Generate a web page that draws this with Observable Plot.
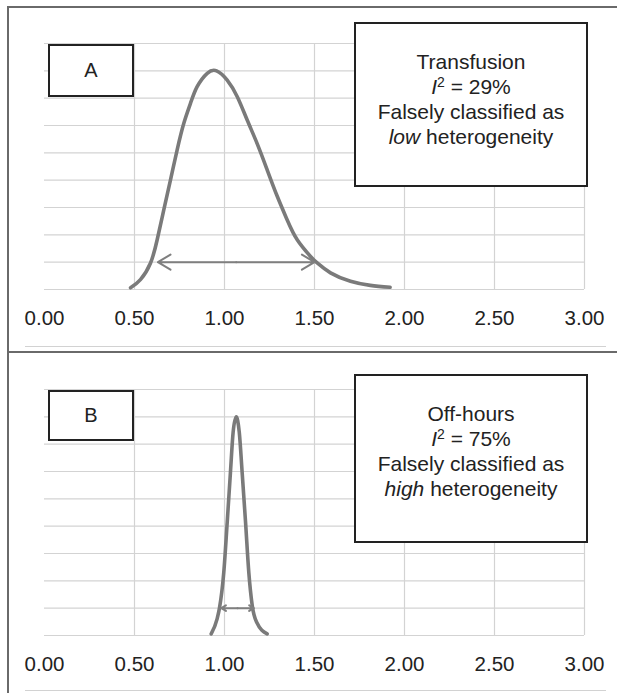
<!DOCTYPE html>
<html>
<head>
<meta charset="utf-8">
<script src="https://cdn.jsdelivr.net/npm/d3@7"></script>
<script src="https://cdn.jsdelivr.net/npm/@observablehq/plot@0.6"></script>
<style>
  html, body { margin: 0; padding: 0; background: #fff; }
  #wrap { position: relative; width: 617px; height: 693px; overflow: hidden; background: #fff;
          font-family: "Liberation Sans", Arial, sans-serif; color: #222; }
  .panel { position: absolute; left: 0; }
  .hline { position: absolute; height: 0; }
  .vline { position: absolute; width: 0; }
  .box { position: absolute; background: #fff; border: 2px solid #222; box-sizing: border-box;
         text-align: center; font-size: 21px; line-height: 25px; color: #222; }
  .lbl { display: flex; align-items: center; justify-content: center; font-size: 20px; }
</style>
</head>
<body>
<div id="wrap"></div>
<script>
// ---- data ----
const xTicks = [0, 0.5, 1, 1.5, 2, 2.5, 3];
const xGrid = [0.5, 1, 1.5, 2, 2.5, 3];
const yGrid = [0, 1, 2, 3, 4, 5, 6, 7, 8, 9];

// Panel A: Transfusion
const curveAx = [0.478, 0.533, 0.589, 0.626, 0.663, 0.700, 0.737, 0.774, 0.811, 0.848, 0.904, 0.956, 1.015, 1.071, 1.126, 1.182, 1.237, 1.293, 1.348, 1.404, 1.478, 1.515, 1.589, 1.700, 1.810, 1.920];
const curveAy = [0.06, 0.36, 0.97, 1.82, 2.92, 4.01, 5.11, 6.08, 6.81, 7.42, 7.91, 8.00, 7.66, 7.05, 6.20, 5.33, 4.38, 3.41, 2.55, 1.82, 1.21, 0.97, 0.61, 0.30, 0.15, 0.08];
const arrowA = {lo: 0.63, hi: 1.50, y: 1};

// Panel B: Off-hours
const curveBx = [0.926, 0.959, 0.972, 0.996, 1.015, 1.033, 1.048, 1.065, 1.082, 1.098, 1.117, 1.135, 1.154, 1.178, 1.237];
const curveBy = [0.06, 0.61, 1.00, 2.31, 4.14, 5.97, 7.44, 8.00, 7.44, 5.97, 4.14, 2.31, 1.10, 0.49, 0.06];
const arrowB = {lo: 0.982, hi: 1.163, y: 1};

const panelLetters = ["A", "B"];
const panelTitles = ["Transfusion", "Off-hours"];
const panelI2 = ["29%", "75%"];
const panelClass = ["low", "high"];

// ---- drawing ----
const wrap = document.getElementById("wrap");

function makePlot(xs, ys, arrow, curve) {
  const pts = xs.map((x, i) => ({x, y: ys[i]}));
  const mid = (arrow.lo + arrow.hi) / 2;
  const arrows = [
    {x1: mid, x2: arrow.lo, y: arrow.y},
    {x1: mid, x2: arrow.hi, y: arrow.y}
  ];
  return Plot.plot({
    width: 617,
    height: 340,
    marginLeft: 44,
    marginRight: 33,
    marginTop: 44,
    marginBottom: 50,
    style: {fontFamily: "'Liberation Sans', Arial, sans-serif", fontSize: "20.5px", color: "#222", background: "transparent", overflow: "visible"},
    x: {domain: [0, 3], ticks: xTicks, tickFormat: d => d.toFixed(2), tickSize: 0, tickPadding: 21, label: null},
    y: {domain: [0, 9], axis: null},
    marks: [
      Plot.ruleY(yGrid, {stroke: "#d3d3d3", strokeWidth: 1.2}),
      Plot.ruleX(xGrid, {stroke: "#d3d3d3", strokeWidth: 1.2}),
      Plot.line(pts, {x: "x", y: "y", curve, stroke: "#7a7a7a", strokeWidth: 3.6, strokeLinecap: "round", strokeLinejoin: "round"}),
      Plot.arrow(arrows, {x1: "x1", x2: "x2", y1: "y", y2: "y", stroke: "#7f7f7f", strokeWidth: 2, headLength: 11, headAngle: 62})
    ]
  });
}

const p1 = makePlot(curveAx, curveAy, arrowA, "natural");
p1.classList.add("panel");
p1.style.top = "-1px";
wrap.appendChild(p1);

const p2 = makePlot(curveBx, curveBy, arrowB, "monotone-x");
p2.classList.add("panel");
p2.style.top = "345px";
wrap.appendChild(p2);

function el(cls, css, html) {
  const d = document.createElement("div");
  d.className = cls;
  Object.assign(d.style, css);
  if (html) d.innerHTML = html;
  wrap.appendChild(d);
  return d;
}

// frame lines
el("vline", {left: "7px", top: "6px", height: "700px", borderLeft: "2px solid #6a6a6a"});
el("hline", {left: "7px", top: "6px", width: "620px", borderTop: "2px solid #6a6a6a"});
el("hline", {left: "7px", top: "351px", width: "620px", borderTop: "2px solid #6a6a6a"});
el("hline", {left: "25px", top: "346px", width: "581px", borderTop: "1.5px solid #d2d2d2"});
el("hline", {left: "25px", top: "690px", width: "581px", borderTop: "1.5px solid #d2d2d2"});

// letter boxes
el("box lbl", {left: "48px", top: "44px", width: "86px", height: "53px"}, panelLetters[0]);
el("box lbl", {left: "48px", top: "390px", width: "86px", height: "51px"}, panelLetters[1]);

// text boxes
function info(i) {
  return `${panelTitles[i]}<br><i>I</i><sup style="font-size:14px;line-height:0;vertical-align:7px">2</sup> = ${panelI2[i]}<br>Falsely classified as<br><i>${panelClass[i]}</i> heterogeneity`;
}
el("box", {left: "354px", top: "22px", width: "234px", height: "165px", paddingTop: "25px"}, info(0));
el("box", {left: "354px", top: "374px", width: "234px", height: "169px", paddingTop: "25px"}, info(1));
</script>
</body>
</html>
